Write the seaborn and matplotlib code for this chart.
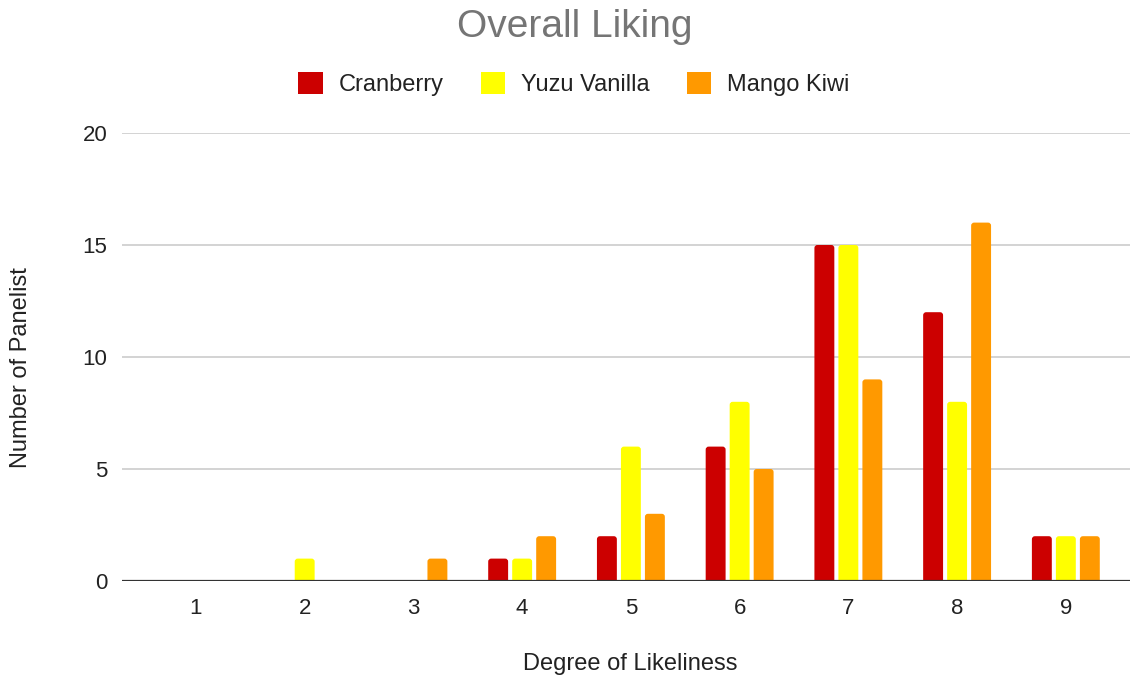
import matplotlib
matplotlib.use("Agg")
import matplotlib.pyplot as plt
import seaborn as sns
import pandas as pd
from matplotlib.patches import Patch, FancyBboxPatch

# Panel ratings per degree of likeliness
degrees = ["1", "2", "3", "4", "5", "6", "7", "8", "9"]
flavours = ["Cranberry", "Yuzu Vanilla", "Mango Kiwi"]
cranberry = [0, 0, 0, 1, 2, 6, 15, 12, 2]
yuzu_vanilla = [0, 1, 0, 1, 6, 8, 15, 8, 2]
mango_kiwi = [0, 0, 1, 2, 3, 5, 9, 16, 2]
colors = ["#cc0000", "#ffff00", "#ff9900"]
y_ticks = [0, 5, 10, 15, 20]

df = pd.DataFrame({
    "degree": degrees * 3,
    "flavour": [f for f in flavours for _ in degrees],
    "count": cranberry + yuzu_vanilla + mango_kiwi,
})

sns.set_theme(style="white")
plt.rcParams["font.family"] = ["Liberation Sans", "DejaVu Sans"]

W, H = 1130, 679
fig = plt.figure(figsize=(W / 100, H / 100), dpi=100)
ax_left, ax_right, ax_top, ax_bottom = 122, 1130, 133, 581
ax = fig.add_axes([ax_left / W, 1 - ax_bottom / H,
                   (ax_right - ax_left) / W, (ax_bottom - ax_top) / H])

sns.barplot(data=df, x="degree", y="count", hue="flavour", order=degrees,
            hue_order=flavours, palette=colors, width=0.662, gap=0.17,
            saturation=1, legend=False, ax=ax, errorbar=None)

xlim = (-0.68, 8.59)
ylim = (0, 20)
ax.set_xlim(*xlim)
ax.set_ylim(*ylim)

# Give the bars softly rounded tops
px_per_x = (ax_right - ax_left) / (xlim[1] - xlim[0])
px_per_y = (ax_bottom - ax_top) / (ylim[1] - ylim[0])
radius_px = 3.0
rx = radius_px / px_per_x
aspect = px_per_x / px_per_y
ry = rx * aspect
for bar in list(ax.patches):
    x, w, h = bar.get_x(), bar.get_width(), bar.get_height()
    color = bar.get_facecolor()
    bar.remove()
    if h <= 0:
        continue
    rounded = FancyBboxPatch((x, -ry), w, h + ry,
                             boxstyle=f"round,pad=0,rounding_size={rx}",
                             mutation_aspect=aspect, facecolor=color,
                             edgecolor="none", zorder=3)
    ax.add_patch(rounded)

ax.set_yticks(y_ticks)
ax.set_xticks(range(len(degrees)))
ax.set_xticklabels(degrees)
ax.yaxis.grid(True, color="#cccccc", linewidth=1.2)
ax.set_axisbelow(True)
ax.axhline(0, color="#333333", linewidth=1.6, zorder=5)
for s in ax.spines.values():
    s.set_visible(False)
ax.tick_params(axis="both", length=0, labelsize=16, labelcolor="#222222")
ax.tick_params(axis="y", pad=10.5)
ax.tick_params(axis="x", pad=12)
ax.set_xlabel("")
ax.set_ylabel("")

fig.text(630 / W, 1 - 664 / H, "Degree of Likeliness", ha="center",
         va="center", fontsize=17, color="#222222")
fig.text(21 / W, 1 - 368 / H, "Number of Panelist", ha="center",
         va="center", rotation=90, fontsize=17, color="#222222")

fig.text(575 / W, 1 - 27 / H, "Overall Liking", ha="center", va="center",
         fontsize=28, color="#757575")

handles = [Patch(facecolor=c, edgecolor="none") for c in colors]
fig.legend(handles, flavours, loc="center", bbox_to_anchor=(574 / W, 1 - 84 / H),
           ncol=3, frameon=False, fontsize=17, handlelength=1.05, handleheight=1.05,
           handletextpad=0.68, columnspacing=1.55, labelcolor="#222222",
           borderpad=0)

fig.savefig("out.png", dpi=100, facecolor="white")
